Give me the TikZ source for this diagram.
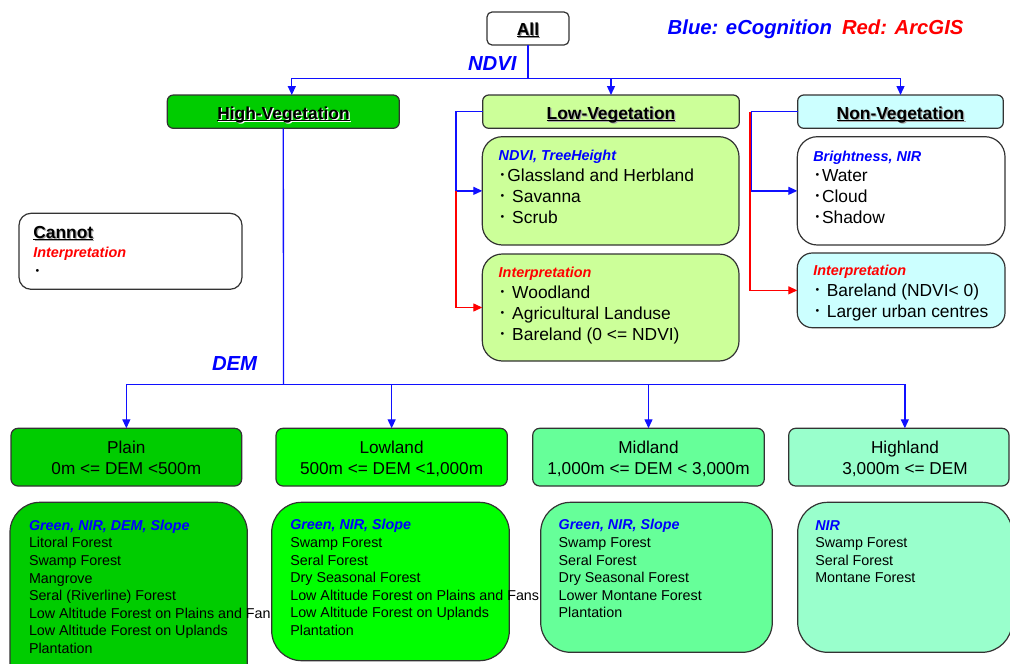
\documentclass[tikz,border=0pt]{standalone}
\usepackage{fontspec}
\setmainfont{Liberation Sans}
\newfontfamily\cjk{Noto Sans CJK JP}
\usetikzlibrary{arrows.meta}

\definecolor{lineblue}{HTML}{1010FF}
\definecolor{txtblue}{HTML}{0000FF}
\definecolor{txtred}{HTML}{FF0000}
\definecolor{boxline}{HTML}{333333}
\definecolor{gHigh}{HTML}{00CC00}
\definecolor{gLow}{HTML}{00FF00}
\definecolor{gMid}{HTML}{66FF99}
\definecolor{gHill}{HTML}{99FFCC}
\definecolor{lowveg}{HTML}{CCFF99}
\definecolor{nonveg}{HTML}{CCFFFF}

\newcommand\fsz[1]{\fontsize{#1}{#1}\selectfont}
\newcommand\dotb{{\cjk ･}}
\newsavebox\ulbox
\newcommand\ul[1]{\sbox\ulbox{#1}\rlap{\rule[-1.9pt]{\wd\ulbox}{1.2pt}}\usebox\ulbox}
\newcommand\hdr[2]{\rlap{\kern1.2pt\raisebox{-1.2pt}{\color{#2}\ul{#1}}}\ul{#1}}

% rounded box from its top-left and bottom-right corners
\newcommand\bx[7]{\node[box, rounded corners=#6, fill=#7,
  minimum width={#4-#2}, minimum height={#5-#3}] (#1) at (#2,#3) {};}
% a column of text lines, one node per line
\newcommand\lines[6]{\foreach \t [count=\i from 0] in {#6}
  \node[txt, font=\fsz{#5}] (#1\i) at (#2,{#3+\i*#4}) {\t};}

\tikzset{
  box/.style={draw=boxline, line width=1.2pt, inner sep=0pt, outer sep=0pt, anchor=north west},
  conn/.style={line width=1.3pt},
  bl/.style={conn, draw=lineblue},
  rl/.style={conn, draw=red},
  tip/.style={-{Triangle[length=9pt,width=8pt]}},
  txt/.style={inner sep=0pt, outer sep=0pt, anchor=base west},
  ctxt/.style={inner sep=0pt, outer sep=0pt, anchor=base},
  keyb/.style={txt, text=txtblue, font=\fsz{14.4}\bfseries\itshape},
  keyr/.style={txt, text=txtred, font=\fsz{14.4}\bfseries\itshape},
  biglab/.style={txt, font=\fsz{20.3}\bfseries\itshape},
  head/.style={ctxt, font=\fsz{17.4}\bfseries},
  lvl/.style={ctxt, font=\fsz{17.2}},
}

\begin{document}
\begin{tikzpicture}[x=1pt,y=-1pt]
\useasboundingbox (0,0) rectangle (1010,664);

% legend
\node[biglab, text=txtblue] (legb) at (667.7,34) {Blue: eCognition};
\node[biglab, text=txtred] (legr) at (842,34) {Red: ArcGIS};

% top level
\bx{all}{487}{12}{569}{45}{5pt}{white}
\node[head] (allt) at (528,35) {\hdr{All}{black!45}};
\node[biglab, text=txtblue] (ndvi) at (468,70) {NDVI};

\bx{hv}{167.3}{95}{399.3}{128.3}{6pt}{gHigh}
\bx{lv}{482.7}{95}{739.3}{128.3}{6pt}{lowveg}
\bx{nv}{797.7}{95}{1003.3}{128.3}{6pt}{nonveg}
\node[head] (hvt) at (283.5,119) {\hdr{High-Vegetation}{white}};
\node[head] (lvt) at (611,119) {\hdr{Low-Vegetation}{black!35}};
\node[head] (nvt) at (900.5,119) {\hdr{Non-Vegetation}{black!35}};

\coordinate (nbus) at (528,78.3);
\draw[bl] (all.south) -- (nbus);
\draw[bl, tip] (nbus) -| ([xshift=8.5pt]hv.north);
\draw[bl, tip] (nbus) -| (lv.north);
\draw[bl, tip] (nbus) -| (nv.north);

% cannot box
\bx{cn}{19}{213.3}{242}{289.3}{12pt}{white}
\node[txt, font=\fsz{17.4}\bfseries] (cnt) at (33.3,238.3) {\hdr{Cannot}{black!35}};
\node[keyr] (cnk) at (33.3,257.3) {Interpretation};
\node[txt, font=\fsz{17.4}] (cnd) at (33.3,277.5) {\dotb};

% low vegetation sub boxes
\bx{lvb}{482.3}{136.7}{739}{245}{20pt}{lowveg}
\bx{lvr}{482.3}{254}{739}{361}{20pt}{lowveg}
\node[keyb] (lvbk) at (498.7,160.7) {NDVI, TreeHeight};
\lines{lvbl}{498.7}{181.7}{20.8}{17.4}{{\dotb Glassland and Herbland},{\dotb\ Savanna},{\dotb\ Scrub}}
\node[keyr] (lvrk) at (498.7,277.7) {Interpretation};
\lines{lvrl}{498.7}{298.4}{20.8}{17.4}{{\dotb\ Woodland},{\dotb\ Agricultural Landuse},{\dotb\ Bareland (0 <= NDVI)}}

\coordinate (lvx) at (456,0);
\draw[bl, tip] (lv.west) -| (lvx |- lvb.west) -- (lvb.west);
\draw[rl, tip] (lvx |- lvb.west) |- (lvr.west);

% non vegetation sub boxes
\bx{nvb}{797.3}{136.7}{1005}{245}{20pt}{white}
\bx{nvr}{797.3}{253}{1005}{327.7}{15pt}{nonveg}
\node[keyb] (nvbk) at (813.3,161.2) {Brightness, NIR};
\lines{nvbl}{813.3}{181.7}{20.8}{17.4}{{\dotb Water},{\dotb Cloud},{\dotb Shadow}}
\node[keyr] (nvrk) at (813.3,275.7) {Interpretation};
\lines{nvrl}{813.3}{296.7}{20.6}{17.4}{{\dotb\ Bareland (NDVI< 0)},{\dotb\ Larger urban centres}}

\coordinate (nvxr) at (750,0);
\coordinate (nvxb) at (751.6,0);
\draw[rl, tip] (nvxr |- nv.west) |- (nvr.west);
\draw[bl, tip] (nv.west) -| (nvxb |- nvb.west) -- (nvb.west);

% DEM split
\node[biglab, text=txtblue] (dem) at (212,370) {DEM};
\bx{pl}{11}{428.3}{241.7}{486}{7pt}{gHigh}
\bx{lw}{276}{428.3}{507.3}{486}{7pt}{gLow}
\bx{ml}{532.7}{428.3}{764.3}{486}{7pt}{gMid}
\bx{hl}{788.7}{428.3}{1009}{486}{7pt}{gHill}
\node[lvl] (pla) at (126.3,453.3) {Plain};
\node[lvl] (plb) at (126.3,474) {0m <= DEM <500m};
\node[lvl] (lwa) at (391.6,453.3) {Lowland};
\node[lvl] (lwb) at (391.6,474) {500m <= DEM <1,000m};
\node[lvl] (mla) at (648.5,453.3) {Midland};
\node[lvl] (mlb) at (648.5,474) {1,000m <= DEM < 3,000m};
\node[lvl] (hla) at (905,453.3) {Highland};
\node[lvl] (hlb) at (905,474) {3,000m <= DEM};

\coordinate (dbus) at (283.5,384.3);
\draw[bl] (hv.south) -- (dbus);
\draw[bl, tip] (dbus) -| ([xshift=0pt]pl.north);
\draw[bl, tip] (dbus) -| (lw.north);
\draw[bl, tip] (dbus) -| (ml.north);
\draw[bl, tip] (dbus) -| ([xshift=6pt]hl.north);

% forest classes, left to right so each box covers the overflow of the one before
\bx{plc}{10}{502.3}{247.3}{700}{30pt}{gHigh}
\node[keyb, font=\fsz{14.3}\bfseries\itshape] (plck) at (29,530.7) {Green, NIR, DEM, Slope};
\lines{plcl}{29}{547.7}{17.65}{14.3}{Litoral Forest,Swamp Forest,Mangrove,Seral (Riverline) Forest,Low Altitude Forest on Plains and Fans,Low Altitude Forest on Uplands,Plantation}

\bx{lwc}{271.7}{502.3}{509.3}{660.7}{30pt}{gLow}
\node[keyb, font=\fsz{14.3}\bfseries\itshape] (lwck) at (290.3,529.7) {Green, NIR, Slope};
\lines{lwcl}{290.3}{547.7}{17.5}{14.3}{Swamp Forest,Seral Forest,Dry Seasonal Forest,Low Altitude Forest on Plains and Fans,Low Altitude Forest on Uplands,Plantation}

\bx{mlc}{540.7}{502.3}{772.3}{652.3}{30pt}{gMid}
\node[keyb, font=\fsz{14.3}\bfseries\itshape] (mlck) at (558.7,529.7) {Green, NIR, Slope};
\lines{mlcl}{558.7}{547.7}{17.5}{14.3}{Swamp Forest,Seral Forest,Dry Seasonal Forest,Lower Montane Forest,Plantation}

\bx{hlc}{797.7}{502.3}{1012}{652.3}{30pt}{gHill}
\node[keyb, font=\fsz{14.3}\bfseries\itshape] (hlck) at (815.3,530) {NIR};
\lines{hlcl}{815.3}{547.7}{17.6}{14.3}{Swamp Forest,Seral Forest,Montane Forest}
\end{tikzpicture}
\end{document}
